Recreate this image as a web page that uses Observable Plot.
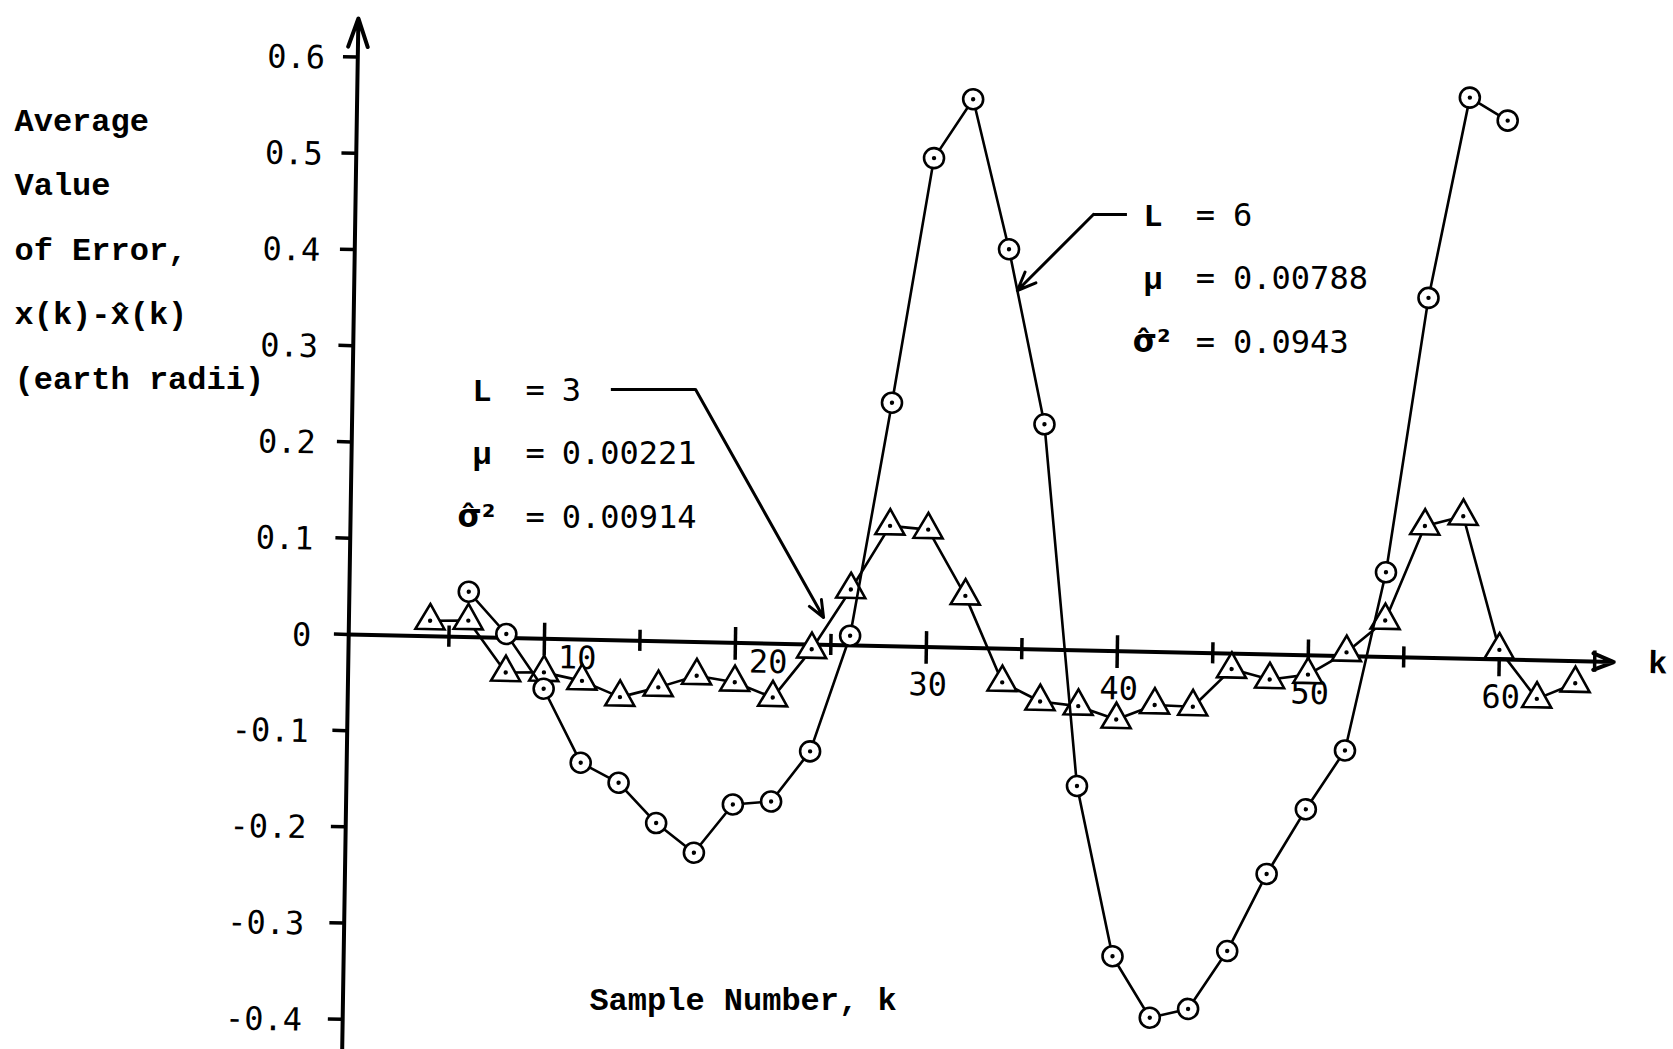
<!DOCTYPE html>
<html>
<head>
<meta charset="utf-8">
<script src="https://cdn.jsdelivr.net/npm/d3@7"></script>
<script src="https://cdn.jsdelivr.net/npm/@observablehq/plot@0.6"></script>
<style>
  html, body { margin: 0; padding: 0; background: #fff; overflow: hidden; }
  #chart { position: relative; width: 1673px; height: 1049px; background: #fff; }
  #chart svg { display: block; position: absolute; left: 0; top: 0; max-width: none; }
</style>
</head>
<body>
<div id="chart"></div>
<script>
// ---------------- data ----------------
// L = 6 (circles)
const kL6 = [6, 8, 10, 12, 14, 16, 18, 20, 22, 24, 26, 28, 30, 32, 34, 36, 38, 40, 42, 44, 46, 48, 50, 52, 54, 56, 58, 60];
const errL6 = [0.047, 0.004, -0.052, -0.128, -0.148, -0.189, -0.219, -0.168, -0.164, -0.111, 0.010, 0.253, 0.508, 0.570,
               0.415, 0.234, -0.141, -0.317, -0.380, -0.370, -0.309, -0.228, -0.160, -0.098, 0.088, 0.374, 0.583, 0.560];
// L = 3 (triangles)
const kL3 = [4, 6, 8, 10, 12, 14, 16, 18, 20, 22, 24, 26, 28, 30, 32, 34, 36, 38, 40, 42, 44, 46, 48, 50, 52, 54, 56, 58, 60, 62, 64];
const errL3 = [0.016, 0.017, -0.036, -0.035, -0.043, -0.059, -0.048, -0.035, -0.041, -0.056, -0.005, 0.058, 0.125, 0.122,
               0.054, -0.035, -0.054, -0.058, -0.071, -0.055, -0.056, -0.016, -0.026, -0.020, 0.004, 0.038, 0.137, 0.148,
               0.010, -0.040, -0.023];

const yTicks = [0.6, 0.5, 0.4, 0.3, 0.2, 0.1, 0, -0.1, -0.2, -0.3, -0.4];
const xTicks = [5, 10, 15, 20, 25, 30, 35, 40, 45, 50, 55, 60, 65];
const xTickLabelsNear = [10, 20];
const xTickLabelsBelow = [30, 40, 50, 60];

const yTitleLines = ["Average", "Value", "of Error,", "x(k)-x\u0302(k)", "(earth radii)"];
const xTitle = "Sample Number, k";
const xAxisName = "k";

const noteSymbols = ["L", "\u03BC", "\u03C3\u0302\u00B2"];
const noteL3 = ["3", "0.00221", "0.00914"];
const noteL6 = ["6", "0.00788", "0.0943"];

// ---------------- tables ----------------
const L6 = kL6.map((k, i) => ({k, e: errL6[i]}));
const L3 = kL3.map((k, i) => ({k, e: errL3[i]}));

// ---------------- layout ----------------
const W = 1673, H = 1049;
const mL = 353, mR = 174, mT = 56.5, mB = 30;
const yDom = [-0.4, 0.6];
const ox = mL;
const oy = mT + (yDom[1] - 0) / (yDom[1] - yDom[0]) * (H - mT - mB);
const deg = Math.PI / 180;
// the hand-drawn axes are not quite square to the page
const tiltX = 1.25 * deg;        // x axis runs slightly downhill
const tiltY = 0.9 * deg;         // y axis leans slightly right
const tiltYLabels = 1.37 * deg;  // typed y tick labels drift a little more
const yAxisAt = -0.25;           // where the hand-drawn y axis crosses

const mono = "DejaVu Sans Mono";
const type = "Liberation Mono";

const common = {
  width: W, height: H,
  marginLeft: mL, marginRight: mR, marginTop: mT, marginBottom: mB,
  x: {domain: [0, 60], axis: null},
  y: {domain: yDom, axis: null}
};

// ---------- frame + data (slanted with the hand-drawn axes) ----------
const frame = Plot.plot({
  ...common,
  style: {background: "transparent", color: "black", fontFamily: mono, fontSize: "32px"},
  marks: [
    Plot.arrow([0], {x1: yAxisAt, y1: -0.46, x2: yAxisAt, y2: 0.64, headLength: 11.25, headAngle: 38, strokeWidth: 4, stroke: "black"}),
    Plot.arrow([0], {x1: yAxisAt, y1: 0, x2: 66.0, y2: 0, headLength: 8.25, headAngle: 44, strokeWidth: 4, stroke: "black"}),
    Plot.ruleX(xTicks, {x: d => d, y1: d => d % 10 === 0 ? -0.018 : -0.011, y2: d => d % 10 === 0 ? 0.016 : 0.011, strokeWidth: 3.5, stroke: "black"}),
    Plot.ruleY(yTicks, {y: d => d, x1: yAxisAt - 0.75, x2: yAxisAt, strokeWidth: 3.5, stroke: "black"}),
    Plot.text(xTickLabelsNear, {x: d => d, y: 0, text: d => String(d), dx: 33, dy: 19, fontFamily: mono, fontSize: 32, fill: "black"}),
    Plot.text(xTickLabelsBelow, {x: d => d, y: 0, text: d => String(d), dx: 2, dy: 38, fontFamily: mono, fontSize: 32, fill: "black"}),
    Plot.text([xAxisName], {x: 68.3, y: 0, text: d => d, fontFamily: type, fontWeight: "bold", fontSize: 32, fill: "black"}),

    // L = 3 series
    Plot.line(L3, {x: "k", y: "e", stroke: "black", strokeWidth: 2.6}),
    Plot.dot(L3, {x: "k", y: "e", symbol: "triangle", r: 10.8, fill: "white", stroke: "black", strokeWidth: 2.6}),
    Plot.dot(L3, {x: "k", y: "e", r: 2.2, fill: "black"}),

    // L = 6 series
    Plot.line(L6, {x: "k", y: "e", stroke: "black", strokeWidth: 2.6}),
    Plot.dot(L6, {x: "k", y: "e", r: 10, fill: "white", stroke: "black", strokeWidth: 2.6}),
    Plot.dot(L6, {x: "k", y: "e", r: 2.2, fill: "black"})
  ]
});

// ---------- typed y tick labels ----------
const yLabels = Plot.plot({
  ...common,
  style: {background: "transparent", color: "black", fontFamily: mono, fontSize: "32px"},
  marks: [
    Plot.text(yTicks, {x: yAxisAt, y: d => d, text: d => d === 0 ? "0" : d.toFixed(1), textAnchor: "end", dx: -37.5, dy: 2,
      fontFamily: mono, fontSize: 32, fill: "black"})
  ]
});

// ---------- typed titles and notes (level) ----------
const rowsL3 = [0.2535, 0.1881, 0.1216];
const rowsL6 = [0.4353, 0.3699, 0.3034];
const symXL3 = [6.23, 6.23];
const symXL6 = [41.36, 41.36];

const notes = Plot.plot({
  ...common,
  style: {background: "transparent", color: "black", fontFamily: type, fontSize: "32px"},
  marks: [
    Plot.text([yTitleLines.join("\n")], {x: -17.75, y: 0.4108, text: d => d, textAnchor: "start", lineAnchor: "middle",
      lineHeight: 2.016, fontFamily: type, fontWeight: "bold", fontSize: 32, fill: "black"}),
    Plot.text([xTitle], {x: 12.35, y: -0.3794, text: d => d, textAnchor: "start", fontFamily: type, fontWeight: "bold",
      fontSize: 32, fill: "black"}),

    // L = 3 note
    Plot.text(noteSymbols.slice(0, 2), {x: (d, i) => symXL3[i], y: (d, i) => rowsL3[i], text: d => d, textAnchor: "start",
      fontFamily: type, fontWeight: "bold", fontSize: 32, fill: "black"}),
    Plot.text(noteSymbols.slice(2), {x: 5.45, y: rowsL3[2], text: d => d, textAnchor: "start",
      fontFamily: "DejaVu Sans", fontWeight: "bold", fontSize: 31, fill: "black"}),
    Plot.text(noteL3, {x: 9.0, y: (d, i) => rowsL3[i], text: () => "=", textAnchor: "start", fontFamily: mono, fontSize: 32, fill: "black"}),
    Plot.text(noteL3, {x: 10.9, y: (d, i) => rowsL3[i], text: d => d, textAnchor: "start", fontFamily: mono, fontSize: 32, fill: "black"}),
    Plot.ruleY([0.2545], {x1: 13.5, x2: 17.91, stroke: "black", strokeWidth: 3}),
    Plot.arrow([0], {x1: 17.91, y1: 0.2545, x2: 24.61, y2: 0.0177, headLength: 9, headAngle: 45, stroke: "black", strokeWidth: 3}),

    // L = 6 note
    Plot.text(noteSymbols.slice(0, 2), {x: (d, i) => symXL6[i], y: (d, i) => rowsL6[i], text: d => d, textAnchor: "start",
      fontFamily: type, fontWeight: "bold", fontSize: 32, fill: "black"}),
    Plot.text(noteSymbols.slice(2), {x: 40.8, y: rowsL6[2], text: d => d, textAnchor: "start",
      fontFamily: "DejaVu Sans", fontWeight: "bold", fontSize: 31, fill: "black"}),
    Plot.text(noteL6, {x: 44.1, y: (d, i) => rowsL6[i], text: () => "=", textAnchor: "start", fontFamily: mono, fontSize: 32, fill: "black"}),
    Plot.text(noteL6, {x: 46.05, y: (d, i) => rowsL6[i], text: d => d, textAnchor: "start", fontFamily: mono, fontSize: 32, fill: "black"}),
    Plot.ruleY([0.4364], {x1: 38.74, x2: 40.52, stroke: "black", strokeWidth: 3}),
    Plot.arrow([0], {x1: 38.74, y1: 0.4364, x2: 34.76, y2: 0.3574, headLength: 10, headAngle: 45, stroke: "black", strokeWidth: 3})
  ]
});

// shear a plot's marks so both axes keep their hand-drawn slants, pivoting at the origin
function slant(svg, ax, ay) {
  const ns = "http://www.w3.org/2000/svg";
  const wrap = document.createElementNS(ns, "g");
  const m = [Math.cos(ax), Math.sin(ax), -Math.sin(ay), Math.cos(ay)];
  wrap.setAttribute("transform", `translate(${ox} ${oy}) matrix(${m.join(" ")} 0 0) translate(${-ox} ${-oy})`);
  const kids = Array.from(svg.children).filter(el => el.tagName.toLowerCase() === "g");
  if (kids.length) {
    svg.insertBefore(wrap, kids[0]);
    kids.forEach(el => wrap.appendChild(el));
  }
}
slant(frame, tiltX, tiltY);
slant(yLabels, tiltX, tiltYLabels);

const host = document.getElementById("chart");
host.appendChild(frame);
host.appendChild(yLabels);
host.appendChild(notes);
</script>
</body>
</html>
